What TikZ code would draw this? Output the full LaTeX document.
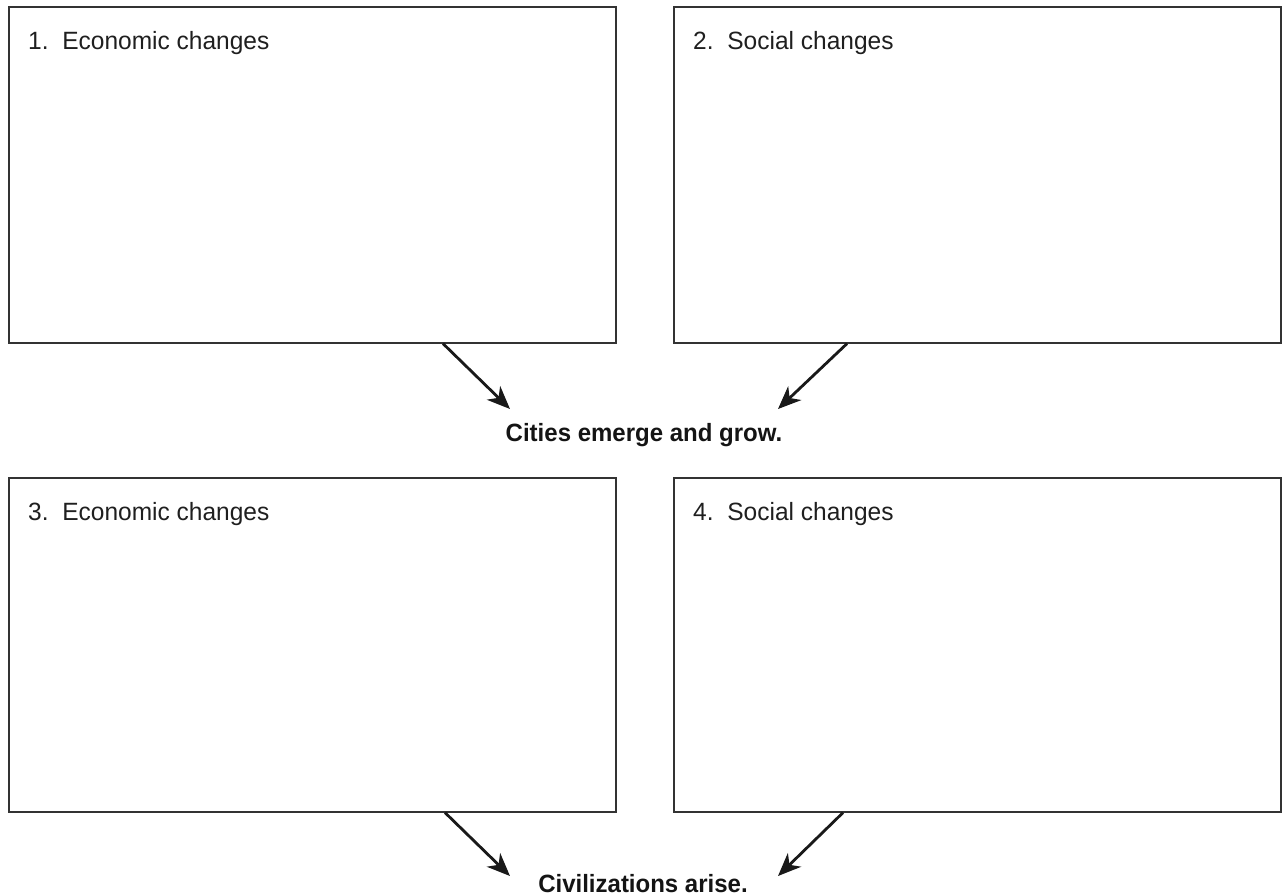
\documentclass[tikz,border=0pt]{standalone}
\usepackage{fontspec}
\setmainfont{Liberation Sans}[FakeStretch=0.98]
\newfontfamily\headfont{Liberation Sans}[FakeStretch=0.96]
\usetikzlibrary{arrows.meta,calc}

\tikzset{
  chartbox/.style={draw=black!80, line width=1.6pt, rectangle, anchor=north west,
    minimum width=607pt, inner sep=0pt},
  boxlabel/.style={anchor=base west, inner sep=0pt, text=black!88,
    font=\fontsize{25}{30}\selectfont},
  result/.style={anchor=base, inner sep=0pt, text=black!92,
    font=\headfont\bfseries\fontsize{25}{30}\selectfont},
  flow/.style={line width=2.8pt, draw=black!90,
    -{Stealth[length=23pt,width=19pt,inset=7pt]}},
}

\begin{document}
\begin{tikzpicture}[x=1pt,y=-1pt]
  \useasboundingbox (0,0) rectangle (1284,896);

  % upper row
  \node[chartbox, minimum height=336pt] (b1) at (8,6) {};
  \node[chartbox, minimum height=336pt] (b2) at (673,6) {};
  \node[boxlabel] (l1) at (28,50) {1.\hspace{0.55em}Economic changes};
  \node[boxlabel] (l2) at (693,50) {2.\hspace{0.55em}Social changes};

  % lower row
  \node[chartbox, minimum height=334pt] (b3) at (8,477) {};
  \node[chartbox, minimum height=334pt] (b4) at (673,477) {};
  \node[boxlabel] (l3) at (28,520) {3.\hspace{0.55em}Economic changes};
  \node[boxlabel] (l4) at (693,520) {4.\hspace{0.55em}Social changes};

  % outcomes
  \node[result] (cities) at (644,441) {Cities emerge and grow.};
  \node[result] (civ) at (643,892) {Civilizations arise.};

  % arrow end points beside the outcome texts
  \coordinate (c1) at (510,409);
  \coordinate (c2) at (778,409);
  \coordinate (c3) at (510,876);
  \coordinate (c4) at (778,876);

  \draw[flow] ($(b1.south west)+(435,0)$) -- (c1);
  \draw[flow] ($(b2.south west)+(174,0)$) -- (c2);
  \draw[flow] ($(b3.south west)+(437,0)$) -- (c3);
  \draw[flow] ($(b4.south west)+(170,0)$) -- (c4);
\end{tikzpicture}
\end{document}
